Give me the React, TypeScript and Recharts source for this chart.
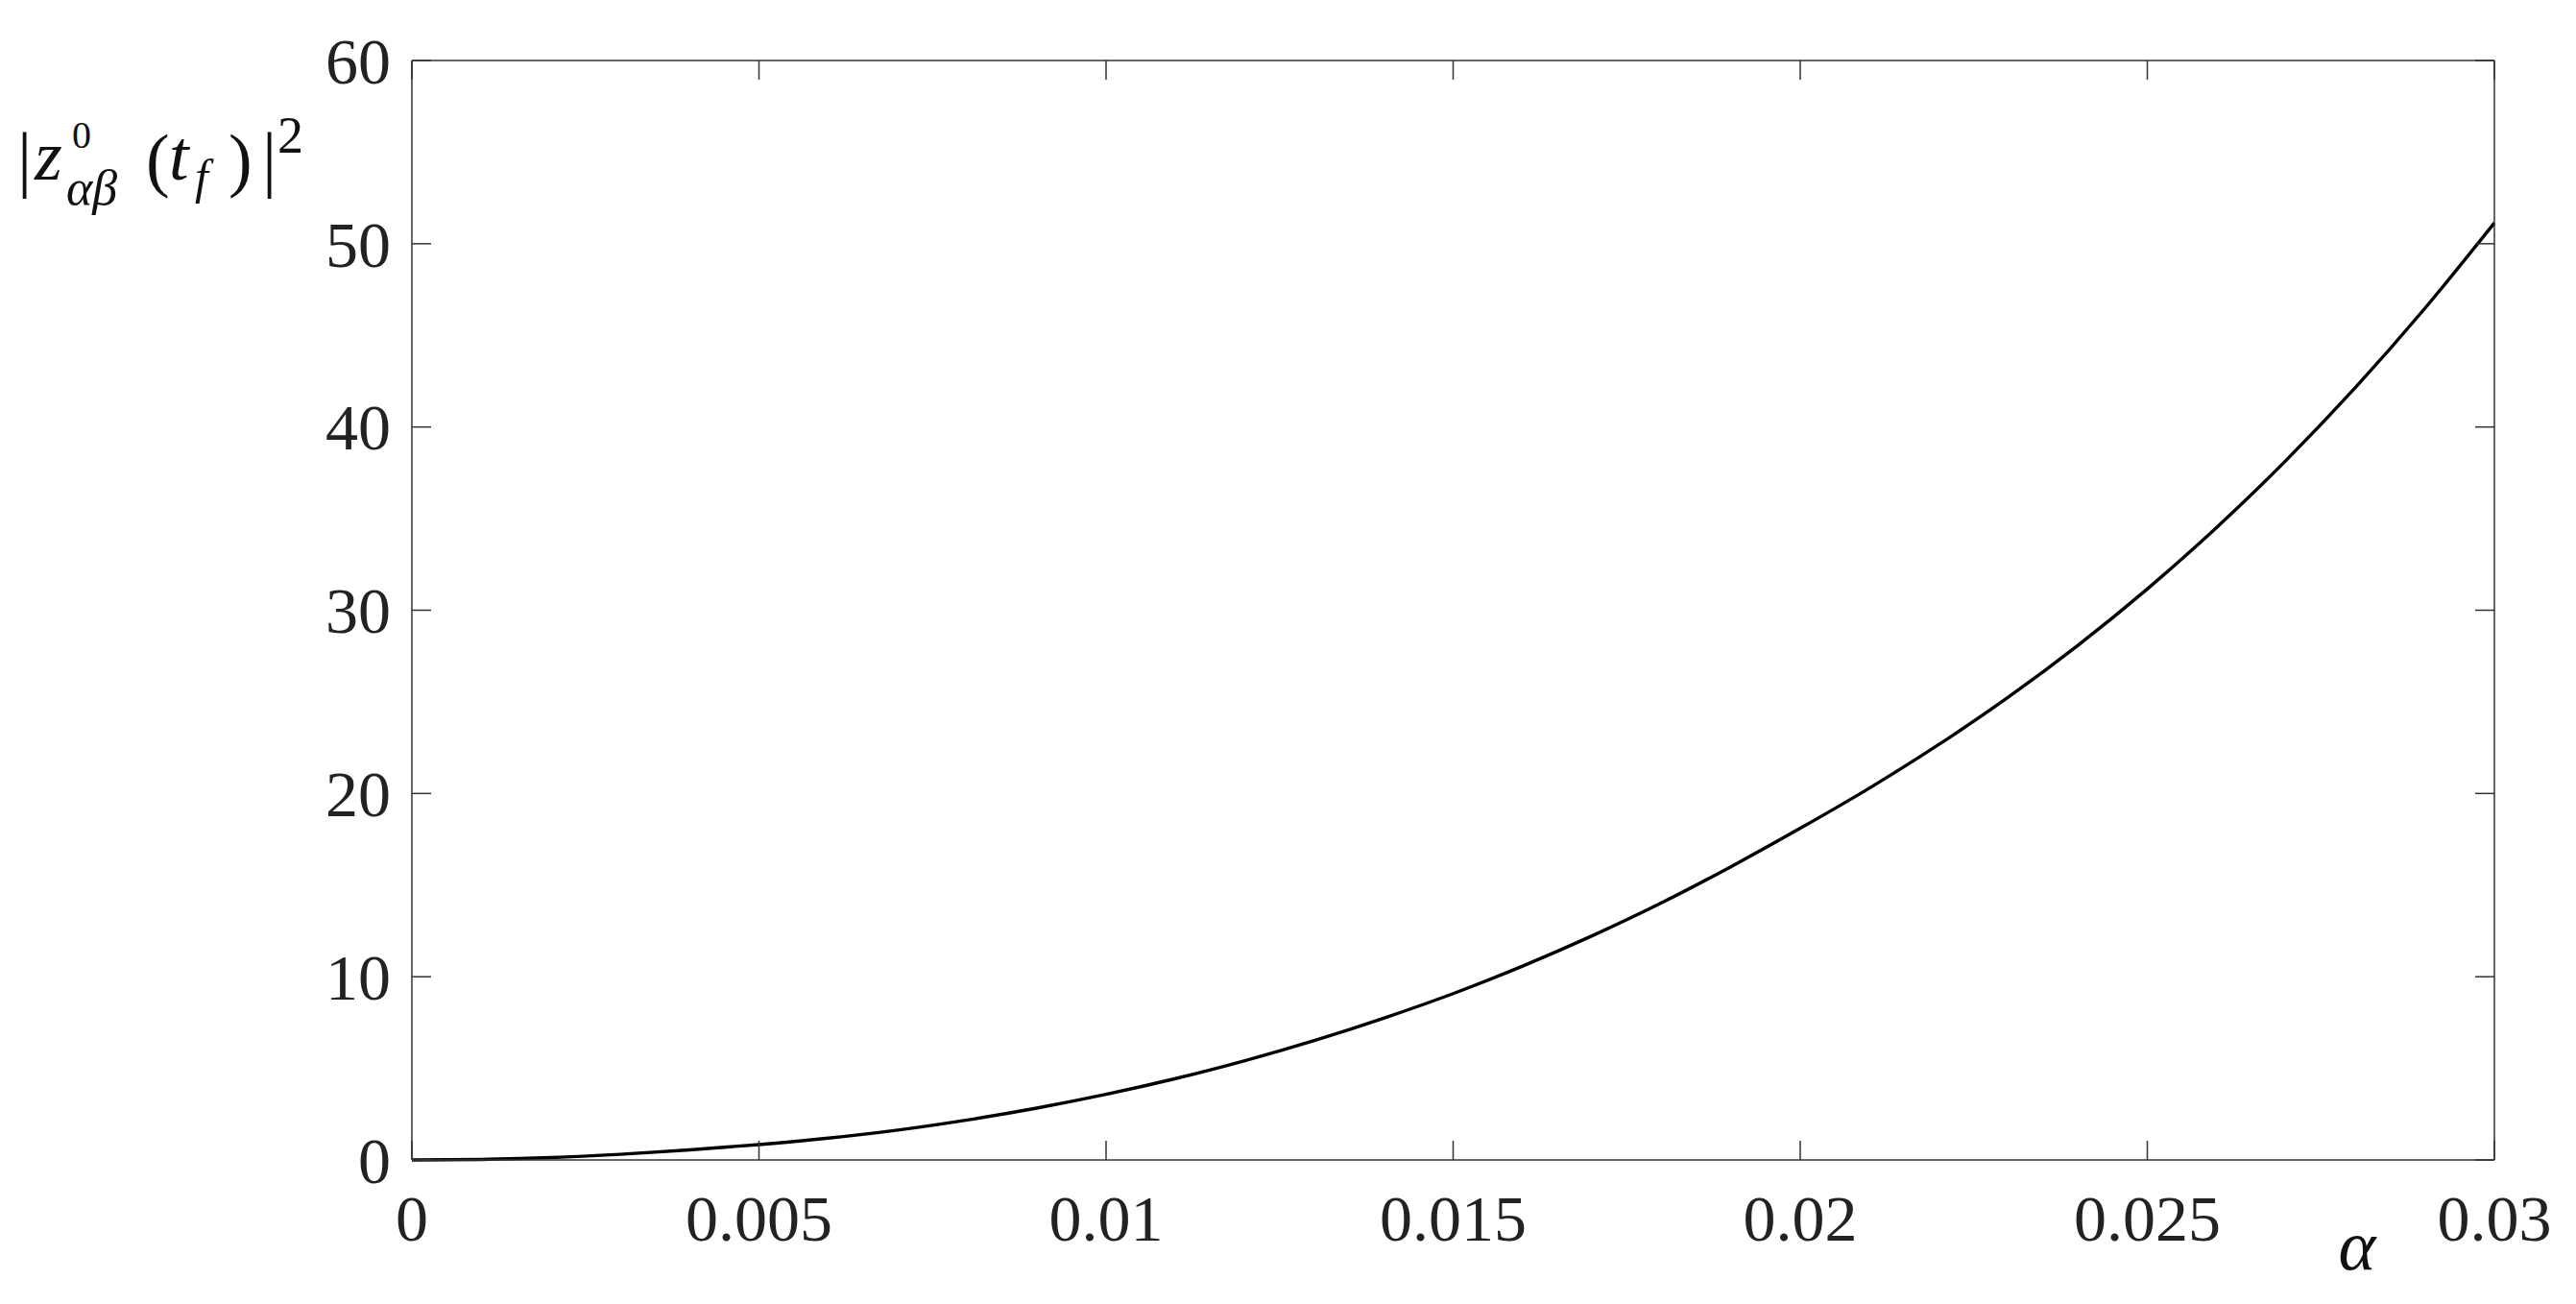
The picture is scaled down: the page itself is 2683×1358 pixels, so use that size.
import React from 'react';
import { LineChart, Line, XAxis, YAxis } from 'recharts';

// alpha values (x) and |z^0_ab(t_f)|^2
const alphaValues = [
  0, 0.001, 0.002, 0.003, 0.004, 0.005, 0.006, 0.007, 0.008, 0.009, 0.01,
  0.011, 0.012, 0.013, 0.014, 0.015, 0.016, 0.017, 0.018, 0.019, 0.02,
  0.021, 0.022, 0.023, 0.024, 0.025, 0.026, 0.027, 0.028, 0.029, 0.03,
];
const zValues = [
  0, 0.03, 0.13, 0.31, 0.55, 0.84, 1.19, 1.63, 2.18, 2.83, 3.58,
  4.44, 5.42, 6.52, 7.74, 9.08, 10.58, 12.23, 14.03, 16.0, 18.1,
  20.3, 22.68, 25.26, 28.08, 31.16, 34.52, 38.18, 42.16, 46.48, 51.14,
];

const xTicks = [0, 0.005, 0.01, 0.015, 0.02, 0.025, 0.03];
const xTickLabels = ['0', '0.005', '0.01', '0.015', '0.02', '0.025', '0.03'];
const yTicks = [0, 10, 20, 30, 40, 50, 60];
const yTickLabels = ['0', '10', '20', '30', '40', '50', '60'];

const chartData = alphaValues.map((a, i) => ({ alpha: a, z: zValues[i] }));

// layout
const CHART_W = 2683;
const CHART_H = 1358;
const MARGIN = { top: 62, right: 84, bottom: 0, left: 0 };
const X_AXIS_H = 150;
const Y_AXIS_W = 429;
const PLOT_W = CHART_W - MARGIN.left - MARGIN.right - 1 - Y_AXIS_W;
const PLOT_H = CHART_H - MARGIN.top - MARGIN.bottom - 1 - X_AXIS_H;

const FONT = '"Liberation Serif", "Times New Roman", serif';
const AXIS_COLOR = '#333';
const TEXT_COLOR = '#222';
const TICK_LEN = 20;

// bottom tick + matching inward tick on the top edge of the box
const BottomTick = (props: any) => {
  const { x, y, index } = props;
  const topY = y - PLOT_H;
  return (
    <g>
      <line x1={x} y1={y} x2={x} y2={y - TICK_LEN} stroke={AXIS_COLOR} strokeWidth={1.5} />
      <line x1={x} y1={topY} x2={x} y2={topY + TICK_LEN} stroke={AXIS_COLOR} strokeWidth={1.5} />
      <text x={x} y={y + 84} textAnchor="middle" fontFamily={FONT} fontSize={68} fill={TEXT_COLOR}>
        {xTickLabels[index]}
      </text>
    </g>
  );
};

// left tick + matching inward tick on the right edge of the box
const LeftTick = (props: any) => {
  const { x, y, index } = props;
  const rightX = x + PLOT_W;
  return (
    <g>
      <line x1={x} y1={y} x2={x + TICK_LEN} y2={y} stroke={AXIS_COLOR} strokeWidth={1.5} />
      <line x1={rightX} y1={y} x2={rightX - TICK_LEN} y2={y} stroke={AXIS_COLOR} strokeWidth={1.5} />
      <text x={x - 22} y={y} dy="0.35em" textAnchor="end" fontFamily={FONT} fontSize={68} fill={TEXT_COLOR}>
        {yTickLabels[index]}
      </text>
    </g>
  );
};

const YLabel = (props: any) => {
  const vb = props.viewBox || { x: 0, y: 0 };
  const bx = vb.x + 18;
  const by = vb.y + 124;
  return (
    <g fontFamily={FONT} fill="#111">
      <text x={bx} y={by + 4} fontSize={76}>|</text>
      <text x={bx + 18} y={by} fontSize={74} fontStyle="italic">z</text>
      <text x={bx + 57} y={by - 33} fontSize={40}>0</text>
      <text x={bx + 51} y={by + 26} fontSize={52} fontStyle="italic">αβ</text>
      <text x={bx + 134} y={by + 4} fontSize={74}>(</text>
      <text x={bx + 158} y={by} fontSize={74} fontStyle="italic">t</text>
      <text x={bx + 185} y={by + 14} fontSize={50} fontStyle="italic">f</text>
      <text x={bx + 220} y={by + 4} fontSize={74}>)</text>
      <text x={bx + 255} y={by + 4} fontSize={76}>|</text>
      <text x={bx + 271} y={by - 28} fontSize={54}>2</text>
    </g>
  );
};

const XLabel = (props: any) => {
  const vb = props.viewBox || { x: 0, y: 0, width: 0 };
  return (
    <text
      x={vb.x + vb.width - 143}
      y={vb.y + 114}
      textAnchor="middle"
      fontFamily={FONT}
      fontStyle="italic"
      fontSize={74}
      fill="#111"
    >
      α
    </text>
  );
};

const App: React.FC = () => {
  return (
    <div style={{ position: 'absolute', left: 0, top: 0, width: CHART_W, height: CHART_H, background: '#fff' }}>
      <LineChart width={CHART_W} height={CHART_H} data={chartData} margin={MARGIN}>
        <XAxis
          dataKey="alpha"
          type="number"
          domain={[0, 0.03]}
          ticks={xTicks}
          height={X_AXIS_H}
          tickSize={0}
          tickMargin={0}
          tickLine={false}
          axisLine={{ stroke: AXIS_COLOR, strokeWidth: 1.5 }}
          tick={<BottomTick />}
          label={{ content: (p: any) => <XLabel {...p} /> }}
        />
        <XAxis
          xAxisId="top"
          orientation="top"
          type="number"
          domain={[0, 0.03]}
          height={1}
          tickLine={false}
          tick={false}
          axisLine={{ stroke: AXIS_COLOR, strokeWidth: 1.5 }}
        />
        <YAxis
          type="number"
          domain={[0, 60]}
          ticks={yTicks}
          width={Y_AXIS_W}
          tickSize={0}
          tickMargin={0}
          tickLine={false}
          axisLine={{ stroke: AXIS_COLOR, strokeWidth: 1.5 }}
          tick={<LeftTick />}
          label={{ content: (p: any) => <YLabel {...p} /> }}
        />
        <YAxis
          yAxisId="right"
          orientation="right"
          type="number"
          domain={[0, 60]}
          width={1}
          tickLine={false}
          tick={false}
          axisLine={{ stroke: AXIS_COLOR, strokeWidth: 1.5 }}
        />
        <Line
          type="monotone"
          dataKey="z"
          stroke="#000"
          strokeWidth={3.4}
          dot={false}
          activeDot={false}
          isAnimationActive={false}
        />
      </LineChart>
    </div>
  );
};

export default App;
